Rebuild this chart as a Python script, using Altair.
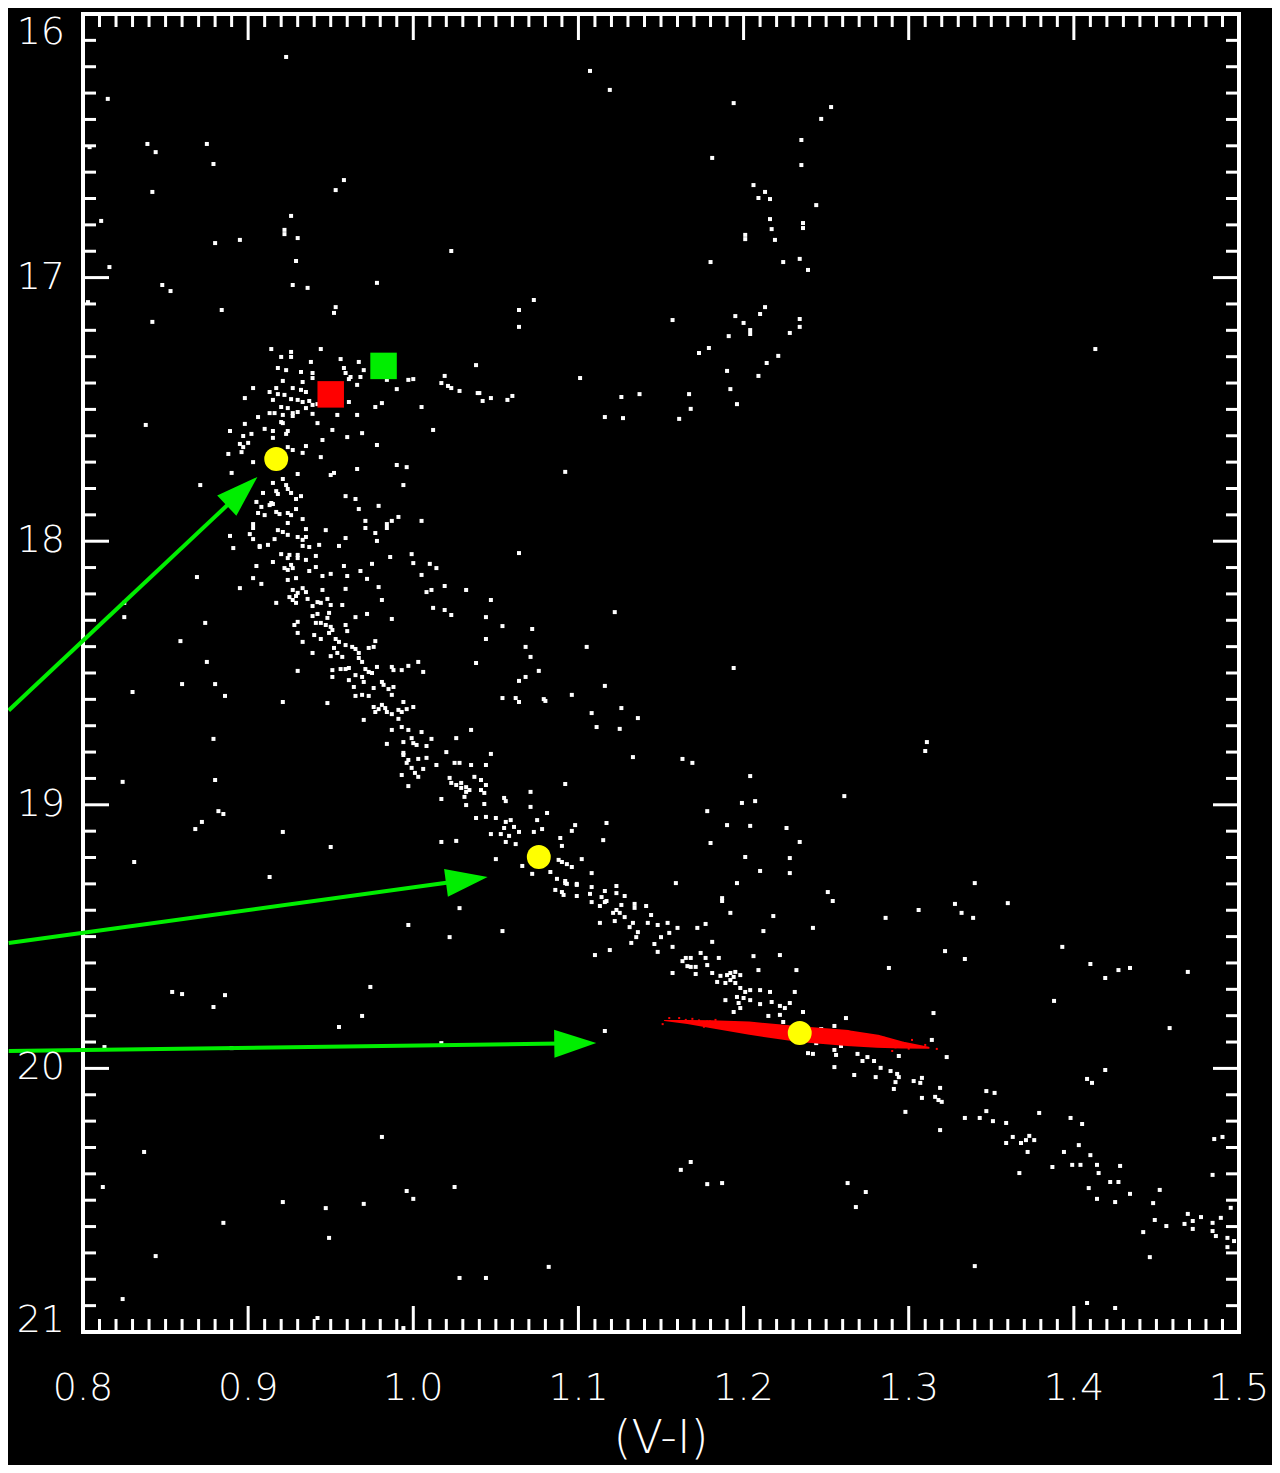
import math
import altair as alt
import pandas as pd

# ---------------- data: (V-I, V) ----------------
STARS_BRIGHT = [
    (0.923, 16.163), (0.815, 16.322), (0.839, 16.493), (0.844, 16.524), (0.875, 16.493),
    (0.879, 16.569), (0.804, 16.505), (0.842, 16.675), (0.958, 16.630), (0.953, 16.668),
    (0.811, 16.785), (0.926, 16.766), (0.922, 16.819), (0.922, 16.835), (0.930, 16.850),
    (0.880, 16.869), (0.895, 16.857), (1.023, 16.899), (0.929, 16.937), (0.816, 16.960),
    (0.848, 17.028), (0.853, 17.051), (0.927, 17.028), (0.936, 17.039), (0.978, 17.020),
    (0.803, 17.093), (0.884, 17.123), (0.953, 17.112), (0.952, 17.134), (0.842, 17.168),
    (0.838, 17.559),
]

STARS_GIANTS = [
    (1.107, 16.216), (1.119, 16.288), (1.194, 16.338), (1.253, 16.353), (1.247, 16.398),
    (1.235, 16.478), (1.181, 16.546), (1.235, 16.573), (1.206, 16.649), (1.213, 16.675),
    (1.209, 16.698), (1.216, 16.702), (1.244, 16.725), (1.216, 16.778), (1.217, 16.816),
    (1.236, 16.793), (1.236, 16.812), (1.201, 16.838), (1.201, 16.854), (1.219, 16.857),
    (1.180, 16.941), (1.224, 16.941), (1.234, 16.929), (1.239, 16.971), (1.073, 17.085),
    (1.064, 17.123), (1.064, 17.187), (1.157, 17.161), (1.213, 17.112), (1.195, 17.146),
    (1.210, 17.138), (1.200, 17.172), (1.204, 17.199), (1.204, 17.214), (1.234, 17.157),
    (1.234, 17.187), (1.228, 17.210), (1.191, 17.222), (1.179, 17.267), (1.173, 17.286),
    (1.221, 17.297), (1.214, 17.324), (1.190, 17.354), (1.209, 17.373), (1.192, 17.423),
    (1.196, 17.480), (1.167, 17.442), (1.168, 17.498), (1.161, 17.536), (1.101, 17.381),
    (1.126, 17.453), (1.137, 17.442), (1.116, 17.529), (1.127, 17.533), (1.040, 17.438),
    (1.042, 17.468), (1.047, 17.457), (1.057, 17.464), (1.060, 17.449), (1.413, 17.271),
    (1.311, 18.762), (1.310, 18.796),
]

STARS_TURNOFF = [
    (0.914, 17.271), (0.920, 17.301), (0.926, 17.282), (0.926, 17.301), (0.944, 17.271),
    (0.938, 17.320), (0.956, 17.309), (0.967, 17.320), (0.970, 17.351), (0.958, 17.343),
    (0.959, 17.362), (0.962, 17.377), (0.961, 17.385), (0.968, 17.377), (0.966, 17.407),
    (0.918, 17.343), (0.923, 17.351), (0.932, 17.358), (0.939, 17.362), (0.939, 17.381),
    (0.933, 17.396), (0.921, 17.392), (0.917, 17.419), (0.927, 17.419), (0.932, 17.426),
    (0.935, 17.434), (0.903, 17.419), (0.913, 17.434), (0.918, 17.442), (0.922, 17.445),
    (0.898, 17.457), (0.915, 17.464), (0.926, 17.461), (0.930, 17.464), (0.933, 17.472),
    (0.937, 17.468), (0.939, 17.483), (0.942, 17.480), (0.920, 17.491), (0.924, 17.495),
    (0.935, 17.495), (0.930, 17.510), (0.927, 17.514), (0.913, 17.514), (0.916, 17.514),
    (0.921, 17.521), (0.939, 17.517), (0.906, 17.529), (0.920, 17.548), (0.927, 17.525),
    (0.954, 17.521), (0.966, 17.521), (0.961, 17.472), (0.977, 17.491), (0.981, 17.476),
    (1.005, 17.491), (0.990, 17.423), (0.984, 17.388), (0.997, 17.388), (1.000, 17.385),
    (1.019, 17.373), (1.017, 17.400), (1.021, 17.411), (1.023, 17.419), (1.028, 17.430),
    (1.038, 17.332), (1.039, 17.438), (0.942, 17.552), (0.921, 17.552), (0.898, 17.555),
    (0.889, 17.582), (0.910, 17.574), (0.915, 17.582), (0.924, 17.582), (0.923, 17.593),
    (0.902, 17.593), (0.897, 17.601), (0.915, 17.608), (0.951, 17.578), (0.969, 17.590),
    (1.012, 17.578), (0.960, 17.605), (0.945, 17.616), (0.895, 17.631), (0.897, 17.643),
    (0.900, 17.627), (0.896, 17.662), (0.888, 17.669), (0.927, 17.654), (0.935, 17.639),
    (0.933, 17.665), (0.978, 17.635), (0.944, 17.681), (0.924, 17.643),
]

STARS_UPPER_MS = [
    (0.890, 17.741), (0.871, 17.787), (0.903, 17.700), (0.990, 17.711), (0.996, 17.719),
    (0.966, 17.726), (0.950, 17.749), (0.952, 17.741), (0.930, 17.745), (0.994, 17.787),
    (0.915, 17.779), (0.921, 17.764), (0.923, 17.787), (0.924, 17.802), (0.926, 17.817),
    (0.917, 17.810), (0.918, 17.821), (0.909, 17.817), (0.932, 17.829), (0.929, 17.840),
    (0.959, 17.829), (0.965, 17.840), (0.905, 17.851), (0.914, 17.855), (0.913, 17.863),
    (0.915, 17.859), (0.908, 17.870), (0.919, 17.897), (0.917, 17.889), (0.924, 17.893),
    (0.926, 17.901), (0.929, 17.878), (0.906, 17.893), (0.910, 17.901), (0.979, 17.866),
    (0.967, 17.878), (0.991, 17.908), (0.987, 17.923), (0.984, 17.935), (0.984, 17.950),
    (1.005, 17.923), (0.971, 17.923), (0.971, 17.950), (0.977, 17.969), (0.978, 17.999),
    (0.933, 17.916), (0.924, 17.931), (0.903, 17.935), (0.903, 17.950), (0.918, 17.958),
    (0.921, 17.965), (0.935, 17.954), (0.947, 17.958), (0.924, 17.976), (0.930, 17.984),
    (0.933, 17.995), (0.935, 17.984), (0.916, 17.992), (0.901, 17.973), (0.903, 17.992),
    (0.889, 17.980), (0.891, 18.026), (0.907, 18.018), (0.907, 18.022), (0.912, 18.014),
    (0.959, 17.988), (0.955, 18.018), (0.943, 18.014), (0.933, 18.018), (0.937, 18.022),
    (0.920, 18.049), (0.924, 18.064), (0.925, 18.052), (0.930, 18.052), (0.930, 18.064),
    (0.922, 18.102), (0.924, 18.109), (0.927, 18.102), (0.926, 18.090), (0.915, 18.079),
    (0.905, 18.094), (0.935, 18.071), (0.941, 18.056), (0.941, 18.098), (0.945, 18.132),
    (0.950, 18.124), (0.937, 18.113), (0.929, 18.140), (0.924, 18.147), (0.903, 18.140),
    (0.908, 18.162), (0.895, 18.178), (0.869, 18.136), (0.975, 18.086), (0.968, 18.113),
    (0.958, 18.094), (0.972, 18.143), (0.960, 18.132), (0.979, 18.174), (0.959, 18.181),
    (0.945, 18.185), (0.927, 18.185), (0.930, 18.196), (0.925, 18.212), (0.929, 18.208),
    (0.927, 18.223), (0.929, 18.234), (0.933, 18.178), (0.935, 18.193), (0.917, 18.234),
    (0.936, 18.219), (0.939, 18.246), (0.942, 18.231), (0.944, 18.234), (0.948, 18.219),
    (0.950, 18.242), (0.957, 18.242), (0.981, 18.223), (0.999, 18.049), (1.000, 18.083),
    (1.010, 18.086), (1.014, 18.102), (1.005, 18.128), (1.019, 18.170), (1.011, 18.185),
    (1.008, 18.193), (1.032, 18.185), (0.986, 18.060), (1.012, 18.253), (1.019, 18.261),
    (1.023, 18.280), (0.987, 18.295), (0.972, 18.276), (0.965, 18.288), (0.942, 18.276),
    (0.949, 18.272), (0.948, 18.291), (0.939, 18.284), (0.941, 18.310), (0.944, 18.310),
    (0.947, 18.318), (0.950, 18.325), (0.951, 18.337), (0.949, 18.348), (0.959, 18.318),
    (0.960, 18.341), (0.930, 18.306), (0.928, 18.318), (0.930, 18.348), (0.940, 18.356),
    (0.944, 18.371), (0.933, 18.382), (0.953, 18.371), (0.952, 18.405), (0.955, 18.382),
    (0.959, 18.394), (0.963, 18.401), (0.965, 18.409), (0.954, 18.424), (0.957, 18.439),
    (0.950, 18.436), (0.939, 18.424), (0.976, 18.401), (0.977, 18.379), (0.967, 18.424),
    (0.967, 18.443), (0.969, 18.458), (0.973, 18.405), (0.978, 18.477), (0.956, 18.485),
    (0.959, 18.485), (0.961, 18.481), (0.951, 18.489), (0.951, 18.515), (0.971, 18.485),
    (0.973, 18.496), (0.975, 18.500), (0.965, 18.508), (0.961, 18.527), (0.964, 18.553),
    (0.969, 18.515), (0.970, 18.534), (0.981, 18.534), (0.982, 18.545), (0.985, 18.561),
    (0.988, 18.553), (0.987, 18.583), (0.987, 18.477), (0.988, 18.489), (0.993, 18.489),
    (0.997, 18.473), (1.003, 18.458), (1.006, 18.496), (1.038, 18.462), (0.976, 18.557),
    (0.973, 18.587), (0.969, 18.583), (0.965, 18.587), (0.976, 18.629), (0.977, 18.648),
    (0.979, 18.637), (0.981, 18.621), (0.983, 18.633), (0.984, 18.648), (0.987, 18.656),
    (0.991, 18.640), (0.993, 18.648), (0.996, 18.637), (0.994, 18.610), (1.000, 18.629),
    (0.970, 18.678), (0.987, 18.716), (0.991, 18.674), (0.993, 18.705), (0.997, 18.716),
    (1.005, 18.724), (1.011, 18.750), (0.994, 18.762), (0.999, 18.747), (1.000, 18.766),
    (1.002, 18.773), (1.008, 18.777), (0.984, 18.769), (0.994, 18.803), (0.994, 18.811),
    (0.997, 18.830), (0.996, 18.841), (1.003, 18.826), (1.008, 18.822), (1.014, 18.849),
    (0.999, 18.860), (1.001, 18.879), (1.003, 18.894), (1.006, 18.864), (0.993, 18.887),
    (0.997, 18.929), (1.020, 18.800), (1.026, 18.747), (1.035, 18.716), (1.025, 18.841),
    (1.028, 18.841), (1.035, 18.849), (1.022, 18.898), (1.023, 18.917), (1.026, 18.925),
    (1.029, 18.917), (1.029, 18.936), (1.032, 18.933), (1.032, 18.951), (1.031, 18.970),
    (1.034, 18.944), (1.037, 18.894), (1.017, 18.978), (1.032, 19.001), (1.038, 19.050),
    (1.017, 19.141), (1.026, 19.137), (0.950, 19.160), (0.921, 19.103), (0.913, 19.274),
    (0.831, 19.217), (0.868, 19.092), (0.872, 19.065), (0.882, 19.024), (0.885, 19.035),
    (0.824, 18.913), (0.880, 18.906), (0.879, 18.750), (0.830, 18.572), (0.860, 18.542),
    (0.880, 18.542), (0.886, 18.587), (0.875, 18.458), (0.859, 18.379), (0.874, 18.310),
    (0.825, 18.288), (0.825, 18.234), (0.921, 18.610), (0.948, 18.614), (0.930, 18.492),
]

STARS_MID_MS = [
    (1.092, 17.737), (1.064, 18.045), (1.047, 18.223), (1.122, 18.269), (1.044, 18.288),
    (1.054, 18.322), (1.072, 18.333), (1.044, 18.371), (1.068, 18.401), (1.071, 18.439),
    (1.105, 18.401), (1.076, 18.492), (1.068, 18.515), (1.064, 18.530), (1.194, 18.481),
    (1.054, 18.595), (1.062, 18.595), (1.064, 18.610), (1.079, 18.599), (1.080, 18.606),
    (1.096, 18.583), (1.116, 18.549), (1.126, 18.633), (1.136, 18.671), (1.108, 18.652),
    (1.111, 18.705), (1.125, 18.712), (1.047, 18.807), (1.044, 18.849), (1.133, 18.819),
    (1.163, 18.826), (1.169, 18.841), (1.204, 18.891), (1.261, 18.967), (1.041, 18.906),
    (1.044, 18.925), (1.041, 18.944), (1.043, 18.955), (1.043, 18.997), (1.092, 18.921),
    (1.071, 18.951), (1.055, 18.974), (1.056, 18.986), (1.071, 19.008), (1.081, 19.031),
    (1.044, 19.046), (1.050, 19.050), (1.056, 19.065), (1.059, 19.058), (1.061, 19.084),
    (1.055, 19.088), (1.053, 19.111), (1.047, 19.111), (1.058, 19.118), (1.056, 19.141),
    (1.062, 19.149), (1.064, 19.103), (1.075, 19.058), (1.078, 19.092), (1.073, 19.103),
    (1.098, 19.077), (1.096, 19.099), (1.117, 19.069), (1.115, 19.134), (1.089, 19.126),
    (1.090, 19.156), (1.050, 19.206), (1.066, 19.232), (1.072, 19.262), (1.088, 19.209),
    (1.090, 19.217), (1.093, 19.225), (1.096, 19.236), (1.083, 19.255), (1.102, 19.206),
    (1.108, 19.259), (1.087, 19.281), (1.092, 19.289), (1.093, 19.300), (1.099, 19.300),
    (1.108, 19.312), (1.123, 19.308), (1.159, 19.297), (1.196, 19.297), (1.178, 19.024),
    (1.199, 18.993), (1.207, 18.986), (1.190, 19.077), (1.204, 19.080), (1.226, 19.088),
    (1.180, 19.145), (1.234, 19.141), (1.201, 19.198), (1.210, 19.251), (1.228, 19.202),
    (1.228, 19.259),
]

STARS_LOWER_MS = [
    (1.086, 19.323), (1.090, 19.331), (1.092, 19.297), (1.091, 19.342), (1.099, 19.304),
    (1.099, 19.346), (1.107, 19.338), (1.116, 19.327), (1.114, 19.350), (1.117, 19.365),
    (1.113, 19.384), (1.116, 19.369), (1.123, 19.335), (1.128, 19.346), (1.126, 19.380),
    (1.123, 19.399), (1.121, 19.410), (1.125, 19.410), (1.122, 19.441), (1.108, 19.369),
    (1.134, 19.376), (1.134, 19.391), (1.141, 19.384), (1.144, 19.418), (1.128, 19.426),
    (1.133, 19.448), (1.131, 19.464), (1.136, 19.483), (1.135, 19.502), (1.132, 19.524),
    (1.142, 19.448), (1.148, 19.456), (1.154, 19.448), (1.155, 19.486), (1.160, 19.467),
    (1.150, 19.502), (1.146, 19.528), (1.148, 19.558), (1.157, 19.539), (1.113, 19.448),
    (1.119, 19.551), (1.110, 19.570), (1.054, 19.479), (1.172, 19.467), (1.177, 19.452),
    (1.181, 19.520), (1.187, 19.354), (1.187, 19.365), (1.192, 19.410), (1.218, 19.422),
    (1.212, 19.479), (1.242, 19.467), (1.251, 19.331), (1.254, 19.365), (1.163, 19.593),
    (1.166, 19.612), (1.168, 19.615), (1.171, 19.615), (1.165, 19.581), (1.168, 19.581),
    (1.174, 19.562), (1.177, 19.581), (1.178, 19.608), (1.157, 19.638), (1.171, 19.642),
    (1.185, 19.581), (1.181, 19.638), (1.186, 19.649), (1.190, 19.646), (1.192, 19.638),
    (1.194, 19.653), (1.195, 19.634), (1.198, 19.646), (1.184, 19.672), (1.189, 19.676),
    (1.192, 19.665), (1.195, 19.676), (1.206, 19.574), (1.222, 19.570), (1.209, 19.627),
    (1.232, 19.627), (1.198, 19.695), (1.201, 19.710), (1.204, 19.703), (1.196, 19.729),
    (1.200, 19.733), (1.204, 19.741), (1.210, 19.703), (1.216, 19.710), (1.231, 19.710),
    (1.189, 19.741), (1.197, 19.752), (1.198, 19.771), (1.210, 19.756), (1.217, 19.748),
    (1.222, 19.763), (1.225, 19.771), (1.228, 19.752), (1.194, 19.786), (1.215, 19.801),
    (1.222, 19.797), (1.224, 19.824), (1.236, 19.786), (1.262, 19.809), (1.255, 19.839),
    (1.247, 19.851), (1.239, 19.942), (1.242, 19.945), (1.255, 19.930), (1.256, 19.949),
    (1.255, 19.995), (1.269, 19.945), (1.272, 19.972), (1.275, 19.957), (1.279, 19.972),
    (1.267, 20.025), (1.280, 20.033), (1.259, 19.915), (1.244, 19.904), (1.116, 19.858),
    (1.162, 20.385), (1.168, 20.355), (1.178, 20.439), (1.187, 20.435), (1.263, 20.435),
    (1.274, 20.469), (1.268, 20.526), (1.082, 20.753), (1.044, 20.795),
]

STARS_FAINT_MS = [
    (1.340, 19.297), (1.286, 19.429), (1.306, 19.399), (1.328, 19.376), (1.332, 19.410),
    (1.339, 19.429), (1.360, 19.373), (1.322, 19.555), (1.334, 19.585), (1.288, 19.619),
    (1.393, 19.539), (1.410, 19.604), (1.419, 19.657), (1.427, 19.627), (1.434, 19.619),
    (1.469, 19.634), (1.388, 19.744), (1.315, 19.790), (1.458, 19.847), (1.314, 19.892),
    (1.294, 19.953), (1.323, 19.957), (1.283, 19.998), (1.289, 20.010), (1.293, 20.021),
    (1.294, 20.033), (1.292, 20.052), (1.291, 20.078), (1.303, 20.048), (1.307, 20.055),
    (1.308, 20.036), (1.308, 20.112), (1.316, 20.108), (1.318, 20.120), (1.320, 20.127),
    (1.319, 20.074), (1.298, 20.165), (1.319, 20.234), (1.347, 20.086), (1.352, 20.093),
    (1.347, 20.162), (1.334, 20.188), (1.343, 20.188), (1.351, 20.200), (1.359, 20.207),
    (1.379, 20.169), (1.398, 20.188), (1.405, 20.211), (1.408, 20.040), (1.411, 20.055),
    (1.419, 20.006), (1.359, 20.283), (1.363, 20.260), (1.368, 20.283), (1.371, 20.272),
    (1.373, 20.256), (1.376, 20.272), (1.372, 20.317), (1.367, 20.397), (1.387, 20.374),
    (1.394, 20.317), (1.399, 20.366), (1.404, 20.366), (1.403, 20.291), (1.410, 20.329),
    (1.414, 20.366), (1.415, 20.397), (1.428, 20.370), (1.422, 20.431), (1.427, 20.431),
    (1.409, 20.454), (1.414, 20.495), (1.425, 20.507), (1.434, 20.476), (1.452, 20.461),
    (1.448, 20.511), (1.449, 20.575), (1.442, 20.621), (1.456, 20.598), (1.446, 20.716),
    (1.469, 20.552), (1.467, 20.590), (1.472, 20.579), (1.472, 20.609), (1.477, 20.564),
    (1.484, 20.586), (1.484, 20.617), (1.486, 20.636), (1.489, 20.567), (1.493, 20.643),
    (1.493, 20.678), (1.497, 20.655), (1.495, 20.529), (1.484, 20.404), (1.485, 20.268),
    (1.490, 20.260), (1.340, 20.750), (1.408, 20.890), (1.425, 20.909),
]

STARS_FIELD_LOW = [
    (1.028, 19.392), (0.997, 19.456), (1.022, 19.502), (0.974, 19.691), (0.969, 19.801),
    (0.955, 19.843), (0.854, 19.710), (0.860, 19.718), (0.879, 19.767), (0.886, 19.722),
    (0.813, 19.919), (0.890, 19.923), (1.017, 19.904), (0.837, 20.317), (0.812, 20.450),
    (0.981, 20.260), (0.921, 20.507), (0.947, 20.530), (0.970, 20.514), (0.996, 20.465),
    (1.000, 20.495), (1.025, 20.450), (0.885, 20.586), (0.949, 20.643), (0.844, 20.712),
    (0.824, 20.875), (1.028, 20.795), (0.942, 20.947), (0.994, 20.985),
]

# red (synthetic) sequence streak: centre line and its apparent width
STREAK_VI = [1.152, 1.166, 1.180, 1.203, 1.234, 1.263, 1.281, 1.296, 1.312]
STREAK_V = [19.818, 19.824, 19.832, 19.847, 19.870, 19.885, 19.897, 19.911, 19.922]
STREAK_WIDTH = [1, 4, 8, 13, 16, 16, 13, 7, 2]
STREAK_SPECKLE = [
    (1.151, 19.832), (1.155, 19.809), (1.161, 19.809), (1.165, 19.816), (1.297, 19.911),
    (1.305, 19.919), (1.310, 19.911), (1.317, 19.926), (1.290, 19.934), (1.302, 19.892),
    (1.169, 19.812), (1.173, 19.818), (1.176, 19.842), (1.183, 19.816), (1.188, 19.847),
    (1.195, 19.826), (1.199, 19.858), (1.206, 19.832), (1.214, 19.866), (1.221, 19.842),
    (1.255, 19.896), (1.266, 19.872), (1.272, 19.905), (1.285, 19.884), (1.292, 19.920),
    (1.178, 19.822), (1.192, 19.851), (1.247, 19.862), (1.276, 19.880), (1.300, 19.925),
]

# highlighted points
YELLOW_VI = [0.917, 1.076, 1.234]
YELLOW_V = [17.688, 19.198, 19.866]
SQUARE_VI = [0.950, 0.982]
SQUARE_V = [17.443, 17.335]
SQUARE_COLOR = ["#ff0000", "#00ee00"]

# arrows (start at left edge of page, tip)
ARROW_START_VI = [0.755, 0.755, 0.755]
ARROW_START_V = [18.642, 19.524, 19.934]
ARROW_TIP_VI = [0.9056, 1.045, 1.1108]
ARROW_TIP_V = [17.756, 19.274, 19.904]

# axis ticks / labels
X_LABELS = [0.8, 0.9, 1.0, 1.1, 1.2, 1.3, 1.4, 1.5]
Y_LABELS = [16, 17, 18, 19, 20, 21]
X_TITLE = "(V-I)"

# ---------------- layout ----------------
W, H = 1156, 1318
X_DOM = [0.8, 1.5]
Y_DOM = [16, 21]
GREEN = "#00ee00"
FONT = "DejaVu Sans"
LABEL_SIZE = 38

xs = alt.Scale(domain=X_DOM, nice=False, zero=False)
ys = alt.Scale(domain=Y_DOM, nice=False, zero=False, reverse=True)


def X(field):
    return alt.X(field, type="quantitative", scale=xs, axis=None)


def Y(field):
    return alt.Y(field, type="quantitative", scale=ys, axis=None)


stars = pd.DataFrame(
    STARS_BRIGHT + STARS_GIANTS + STARS_TURNOFF + STARS_UPPER_MS + STARS_MID_MS
    + STARS_LOWER_MS + STARS_FAINT_MS + STARS_FIELD_LOW,
    columns=["vi", "v"],
)

base = alt.Chart(stars).mark_point(
    shape="square", filled=True, size=16, color="white", opacity=1
).encode(x=X("vi"), y=Y("v"))

streak_df = pd.DataFrame({"vi": STREAK_VI, "v": STREAK_V, "w": STREAK_WIDTH})
streak = alt.Chart(streak_df).mark_trail(color="#ff0000").encode(
    x=X("vi"), y=Y("v"),
    size=alt.Size("w:Q", scale=None, legend=None),
    order=alt.Order("vi:Q"),
)
speckle = alt.Chart(pd.DataFrame(STREAK_SPECKLE, columns=["vi", "v"])).mark_point(
    shape="square", filled=True, size=4, color="#ff0000", opacity=1
).encode(x=X("vi"), y=Y("v"))

yellow = alt.Chart(pd.DataFrame({"vi": YELLOW_VI, "v": YELLOW_V})).mark_circle(
    size=572, color="#ffff00", opacity=1
).encode(x=X("vi"), y=Y("v"))

squares = alt.Chart(pd.DataFrame({"vi": SQUARE_VI, "v": SQUARE_V, "c": SQUARE_COLOR})).mark_square(
    size=702, opacity=1
).encode(x=X("vi"), y=Y("v"), color=alt.Color("c:N", scale=None, legend=None))

# arrows: direction computed from the scales' pixel mapping
PX_VI = W / (X_DOM[1] - X_DOM[0])
PX_V = H / (Y_DOM[1] - Y_DOM[0])
HEAD_LEN = 42
rows = []
for sx, sy, tx, ty in zip(ARROW_START_VI, ARROW_START_V, ARROW_TIP_VI, ARROW_TIP_V):
    dx = (tx - sx) * PX_VI
    dy = (ty - sy) * PX_V
    ang = math.atan2(dy, dx)
    back = HEAD_LEN - 6
    ex = tx - back * math.cos(ang) / PX_VI
    ey = ty - back * math.sin(ang) / PX_V
    rows.append({"x0": sx, "y0": sy, "x1": ex, "y1": ey, "tx": tx, "ty": ty,
                 "angle": math.degrees(ang) % 360})
arrows_df = pd.DataFrame(rows)

arrow_lines = alt.Chart(arrows_df).mark_rule(color=GREEN, strokeWidth=4, clip=False).encode(
    x=X("x0"), y=Y("y0"), x2="x1", y2="y1"
)
arrow_heads = alt.Chart(arrows_df).mark_point(
    shape="M0,0L-2,-0.667L-2,0.667Z", filled=True, size=HEAD_LEN ** 2,
    color=GREEN, opacity=1, clip=False
).encode(x=X("tx"), y=Y("ty"), angle=alt.Angle("angle:Q", scale=None))

# inward ticks on all four sides
x_major = pd.DataFrame({"t": X_LABELS})
x_minor = pd.DataFrame({"t": [round(0.8 + i * 0.01, 2) for i in range(71) if i % 10]})
y_major = pd.DataFrame({"t": Y_LABELS})
y_minor = pd.DataFrame({"t": [round(16 + i * 0.1, 1) for i in range(51) if i % 10]})


def xticks(df, length):
    top = alt.Chart(df).mark_rule(color="white", strokeWidth=3).encode(
        x=X("t"), y=alt.value(0), y2=alt.value(length))
    bot = alt.Chart(df).mark_rule(color="white", strokeWidth=3).encode(
        x=X("t"), y=alt.value(H), y2=alt.value(H - length))
    return [top, bot]


def yticks(df, length):
    left = alt.Chart(df).mark_rule(color="white", strokeWidth=3).encode(
        y=Y("t"), x=alt.value(0), x2=alt.value(length))
    right = alt.Chart(df).mark_rule(color="white", strokeWidth=3).encode(
        y=Y("t"), x=alt.value(W), x2=alt.value(W - length))
    return [left, right]


tick_layers = xticks(x_major, 26) + xticks(x_minor, 13) + yticks(y_major, 26) + yticks(y_minor, 13)

# tick labels and axis title, placed through the same scales
text_style = dict(font=FONT, fontSize=LABEL_SIZE, color="white", fontWeight=300)
xlab_df = pd.DataFrame({"t": X_LABELS, "s": [f"{v:.1f}" for v in X_LABELS]})
x_labels = alt.Chart(xlab_df).mark_text(baseline="top", align="center", **text_style).encode(
    x=X("t"), y=alt.value(H + 38), text="s:N")

ylab_df = pd.DataFrame({"t": Y_LABELS, "s": [str(v) for v in Y_LABELS]})


def ylabels(baseline, test):
    return alt.Chart(ylab_df).transform_filter(test).mark_text(
        baseline=baseline, align="right", **text_style
    ).encode(y=Y("t"), x=alt.value(-18), text="s:N")


y_labels = [
    ylabels("middle", "datum.t > 16 && datum.t < 21"),
    ylabels("top", "datum.t == 16"),
    ylabels("alphabetic", "datum.t == 21"),
]

x_title = alt.Chart(pd.DataFrame({"s": [X_TITLE]})).mark_text(
    baseline="alphabetic", align="center", font=FONT, fontSize=46, color="white", fontWeight=300
).encode(x=alt.value(W / 2), y=alt.value(H + 121), text="s:N")

chart = alt.layer(
    base, streak, speckle, yellow, squares, arrow_lines, arrow_heads, *tick_layers,
    x_labels, *y_labels, x_title,
).properties(
    width=W, height=H, background="black",
    autosize=alt.AutoSizeParams(type="none"),
    padding={"left": 75, "top": 6, "right": 33, "bottom": 133},
).configure_view(stroke="white", strokeWidth=4)

chart.save("out.html", embed_options={"renderer": "svg", "actions": False})
